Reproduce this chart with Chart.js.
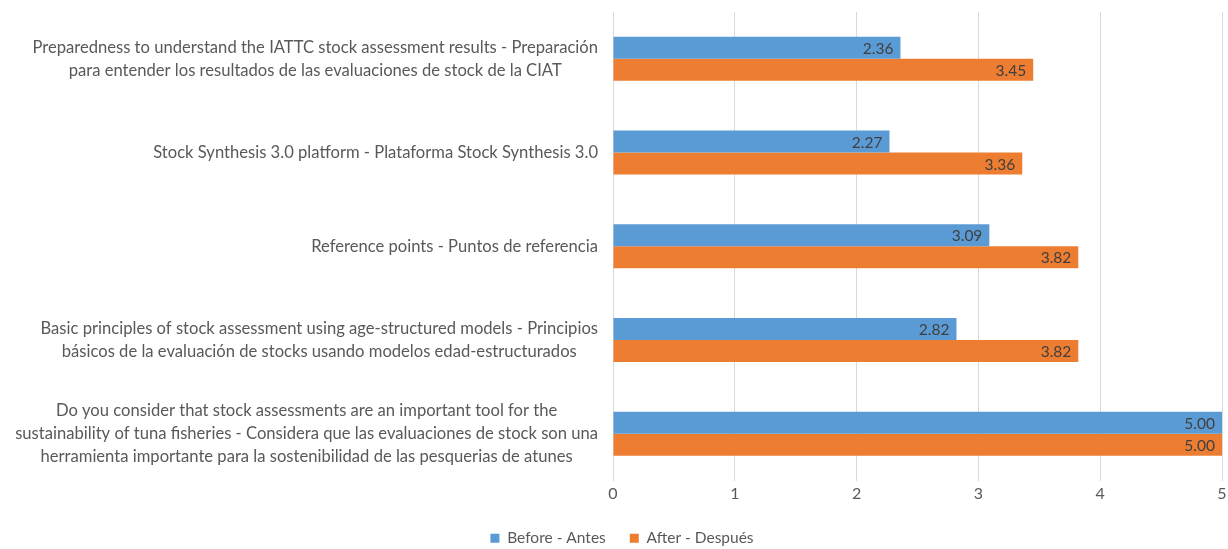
<!DOCTYPE html>
<html>
<head>
<meta charset="utf-8">
<script src="https://cdn.jsdelivr.net/npm/chart.js@4.4.1/dist/chart.umd.min.js"></script>
<style>
  html, body { margin: 0; padding: 0; background: #fff; }
  #wrap { width: 1228px; height: 549px; position: relative; }
</style>
</head>
<body>
<div id="wrap"><canvas id="myChart"></canvas></div>
<script>
// Categorias (de arriba hacia abajo), cada una separada en lineas
const categorias = [
  ["Preparedness to understand the IATTC stock assessment results - Preparación",
   "para entender los resultados de las evaluaciones de stock de la CIAT"],
  ["Stock Synthesis 3.0 platform - Plataforma Stock Synthesis 3.0"],
  ["Reference points - Puntos de referencia"],
  ["Basic principles of stock assessment using age-structured models - Principios",
   "básicos de la evaluación de stocks usando modelos edad-estructurados"],
  ["Do you consider that stock assessments are an important tool for the",
   "sustainability of tuna fisheries - Considera que las evaluaciones de stock son una",
   "herramienta importante para la sostenibilidad de las pesquerias de atunes"]
];
const antes = [2.36, 2.27, 3.09, 2.82, 5.00];
const despues = [3.45, 3.36, 3.82, 3.82, 5.00];
const serieNombres = ["Before - Antes", "After - Después"];
const ejeX = [0, 1, 2, 3, 4, 5];

const fuente = "Lato, 'Open Sans', sans-serif";
const colorTexto = "#595959";

// Etiquetas del eje de categorias: bloque alineado a la derecha, lineas centradas
const etiquetasY = {
  id: "etiquetasY",
  afterDraw(chart) {
    const ctx = chart.ctx;
    const yScale = chart.scales.y;
    const derecha = chart.chartArea.left - 15;
    const alto = 23;
    ctx.save();
    ctx.font = "16.6px " + fuente;
    ctx.fillStyle = colorTexto;
    ctx.textAlign = "center";
    ctx.textBaseline = "middle";
    chart.data.labels.forEach((lineas, i) => {
      const yc = yScale.getPixelForValue(i);
      const ancho = Math.max(...lineas.map(l => ctx.measureText(l).width));
      const cx = derecha - ancho / 2;
      lineas.forEach((l, j) => {
        ctx.fillText(l, cx, yc + (j - (lineas.length - 1) / 2) * alto);
      });
    });
    ctx.restore();
  }
};

// Valores dentro del final de cada barra
const valoresBarras = {
  id: "valoresBarras",
  afterDatasetsDraw(chart) {
    const ctx = chart.ctx;
    ctx.save();
    ctx.font = "15.5px " + fuente;
    ctx.fillStyle = "#404040";
    ctx.textAlign = "right";
    ctx.textBaseline = "middle";
    chart.data.datasets.forEach((ds, i) => {
      const meta = chart.getDatasetMeta(i);
      meta.data.forEach((bar, j) => {
        ctx.fillText(ds.data[j].toFixed(2), bar.x - 7, bar.y + 1);
      });
    });
    ctx.restore();
  }
};

const data = {
  labels: categorias,
  datasets: [
    { label: serieNombres[0], data: antes, backgroundColor: "#5B9BD5" },
    { label: serieNombres[1], data: despues, backgroundColor: "#ED7D31" }
  ]
};

const config = {
  type: "bar",
  data,
  options: {
    indexAxis: "y",
    responsive: true,
    maintainAspectRatio: false,
    animation: false,
    datasets: { bar: { categoryPercentage: 0.47, barPercentage: 1 } },
    layout: { padding: { top: 12, left: 22, right: 6, bottom: -7 } },
    scales: {
      x: {
        min: ejeX[0],
        max: ejeX[ejeX.length - 1],
        afterBuildTicks(scale) { scale.ticks = ejeX.map(v => ({ value: v })); },
        grid: { color: "#d9d9d9", lineWidth: 1, drawTicks: false },
        border: { display: false },
        ticks: { color: colorTexto, font: { family: fuente, size: 16 }, padding: 4 },
        afterFit(scale) {
          scale.height = 26;
          scale.paddingLeft = 0;
          scale.paddingRight = 0;
        }
      },
      y: {
        grid: { display: false },
        border: { display: false },
        ticks: { display: false },
        afterFit(scale) { scale.width = 591; }
      }
    },
    plugins: {
      legend: {
        position: "bottom",
        labels: {
          color: colorTexto,
          font: { family: fuente, size: 15.5 },
          boxWidth: 9,
          boxHeight: 9,
          padding: 24
        }
      },
      tooltip: { enabled: false }
    }
  },
  plugins: [etiquetasY, valoresBarras]
};

new Chart(document.querySelector("#myChart"), config);
</script>
</body>
</html>
